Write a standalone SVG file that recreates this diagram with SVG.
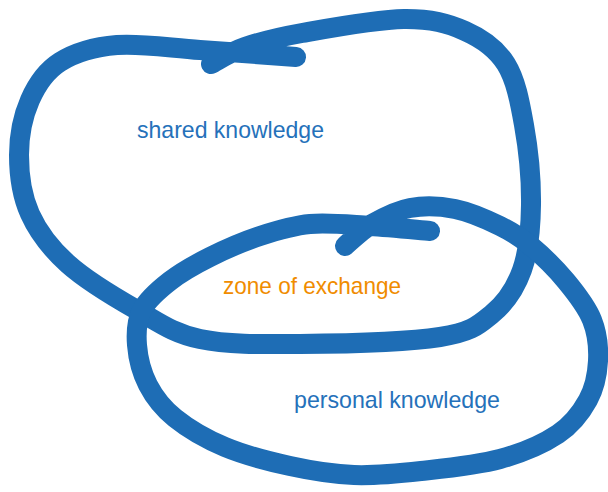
<svg xmlns="http://www.w3.org/2000/svg" width="608" height="492" viewBox="0 0 608 492">
  <style>
    .loop { fill: none; stroke: #1e6db5; stroke-width: 20; stroke-linecap: round; stroke-linejoin: round; }
    .lbl { font-family: "Liberation Sans", Arial, sans-serif; font-size: 24px; }
    .blue { fill: #2571ba; }
    .orange { fill: #f08c00; }
  </style>
  <rect width="608" height="492" fill="#ffffff"/>
  <g id="shared-knowledge">
    <path class="loop" d="M211,64 C216.7,61.2 229.8,52.2 245,47 C260.2,41.8 275.5,37.7 302,33 C328.5,28.3 376.8,19.3 404,19 C431.2,18.7 448,23.5 465,31 C482,38.5 496.2,48.3 506,64 C515.8,79.7 519.8,101.5 524,125 C528.2,148.5 531.3,180.8 531,205 C530.7,229.2 528.5,251.8 522,270 C515.5,288.2 505.7,302.8 492,314 C478.3,325.2 472,332 440,337 C408,342 340,343.7 300,344 C260,344.3 227.2,344.7 200,339 C172.8,333.3 159,322.5 137,310 C115,297.5 85.8,280 68,264 C50.2,248 38.2,232.2 30,214 C21.8,195.8 19,174 19,155 C19,136 23.2,115.5 30,100 C36.8,84.5 45.5,71.2 60,62 C74.5,52.8 93.7,47 117,45 C140.3,43 170.2,48 200,50 C229.8,52 280,55.8 296,57"/>
    <text class="lbl blue" x="137" y="138" textLength="187" lengthAdjust="spacingAndGlyphs">shared knowledge</text>
  </g>
  <g id="personal-knowledge">
    <path class="loop" d="M345,246 C349.5,242.3 361.2,230.3 372,224 C382.8,217.7 396.2,210.5 410,208 C423.8,205.5 440,206 455,209 C470,212 487.3,219.8 500,226 C512.7,232.2 520,236.8 531,246 C542,255.2 555.8,268.7 566,281 C576.2,293.3 586.7,306.7 592,320 C597.3,333.3 598.7,347.7 598,361 C597.3,374.3 594.7,387.8 588,400 C581.3,412.2 572.7,424.2 558,434 C543.3,443.8 522.8,452.8 500,459 C477.2,465.2 445.3,468.3 421,471 C396.7,473.7 375.8,475.8 354,475 C332.2,474.2 311.5,470.7 290,466 C268.5,461.3 244.2,455 225,447 C205.8,439 187.8,428.3 175,418 C162.2,407.7 154.3,397.2 148,385 C141.7,372.8 138,357.5 137,345 C136,332.5 136.5,320.7 142,310 C147.5,299.3 158.7,289.8 170,281 C181.3,272.2 195,264.5 210,257 C225,249.5 243.3,241.5 260,236 C276.7,230.5 291.7,225.7 310,224 C328.3,222.3 350,224.8 370,226 C390,227.2 420,230.2 430,231"/>
    <text class="lbl blue" x="294" y="408" textLength="206" lengthAdjust="spacingAndGlyphs">personal knowledge</text>
  </g>
  <g id="zone-of-exchange">
    <text class="lbl orange" x="223" y="294" textLength="178" lengthAdjust="spacingAndGlyphs">zone of exchange</text>
  </g>
</svg>
